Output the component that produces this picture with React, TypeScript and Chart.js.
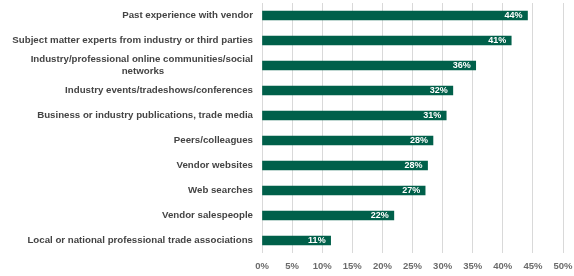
import React, { useEffect, useRef } from "react";
import { Chart, registerables } from "chart.js";

Chart.register(...registerables);

const categories: (string | string[])[] = [
  "Past experience with vendor",
  "Subject matter experts from industry or third parties",
  ["Industry/professional online communities/social", "networks"],
  "Industry events/tradeshows/conferences",
  "Business or industry publications, trade media",
  "Peers/colleagues",
  "Vendor websites",
  "Web searches",
  "Vendor salespeople",
  "Local or national professional trade associations",
];
const values = [44.1, 41.4, 35.5, 31.7, 30.6, 28.4, 27.5, 27.1, 21.9, 11.4];
const valueLabels = ["44%", "41%", "36%", "32%", "31%", "28%", "28%", "27%", "22%", "11%"];
const xTicks = [0, 5, 10, 15, 20, 25, 30, 35, 40, 45, 50];

const FONT = "'Liberation Sans', Arial, sans-serif";
const Y_FONT_SIZE = 9.7;

const measureCtx = (() => {
  const c = document.createElement("canvas");
  const ctx = c.getContext("2d")!;
  ctx.font = `bold ${Y_FONT_SIZE}px ${FONT}`;
  return ctx;
})();

// center the lines of a multi-line label against each other (right-aligned axis)
function centerLines(label: string | string[]): string | string[] {
  if (!Array.isArray(label)) return label;
  const widths = label.map((l) => measureCtx.measureText(l).width);
  const maxW = Math.max(...widths);
  const sp = measureCtx.measureText("\u00a0").width;
  return label.map((l, i) => {
    const n = Math.round((maxW - widths[i]) / 2 / sp);
    return l + "\u00a0".repeat(n);
  });
}

const labelPlugin = {
  id: "barLabels",
  afterDatasetsDraw(chart: any) {
    const ctx = chart.ctx;
    const meta = chart.getDatasetMeta(0);
    ctx.save();
    ctx.font = `bold 9px ${FONT}`;
    ctx.fillStyle = "#ffffff";
    ctx.textAlign = "right";
    ctx.textBaseline = "middle";
    meta.data.forEach((bar: any, i: number) => {
      ctx.fillText(valueLabels[i], bar.x - 5, bar.y + 0.5);
    });
    ctx.restore();
  },
};

export default function App() {
  const ref = useRef<HTMLCanvasElement>(null);
  useEffect(() => {
    if (!ref.current) return;
    const chart = new Chart(ref.current, {
      type: "bar",
      data: {
        labels: categories,
        datasets: [
          {
            data: values,
            backgroundColor: "#00604a",
            barThickness: 9,
          },
        ],
      },
      options: {
        indexAxis: "y",
        animation: false,
        responsive: false,
        maintainAspectRatio: false,
        layout: { padding: { top: 3, right: 11, left: 0, bottom: 0 } },
        plugins: { legend: { display: false }, tooltip: { enabled: false } },
        scales: {
          x: {
            min: 0,
            max: 50,
            afterBuildTicks: (scale: any) => {
              scale.ticks = xTicks.map((v) => ({ value: v }));
            },
            afterFit: (scale: any) => {
              scale.height = 23;
              scale.paddingLeft = 0;
              scale.paddingRight = 0;
            },
            grid: { color: "#d9d9d9", drawTicks: false, lineWidth: 1 },
            border: { display: false },
            ticks: {
              padding: 8,
              color: "#6b6b6b",
              font: { family: FONT, size: 9.5, weight: "bold" },
              callback: (v: any) => v + "%",
              maxRotation: 0,
              autoSkip: false,
            },
          },
          y: {
            afterFit: (scale: any) => {
              scale.width = 262;
              scale.paddingTop = 0;
              scale.paddingBottom = 0;
            },
            grid: { display: false, drawTicks: false },
            border: { display: false },
            ticks: {
              padding: 9,
              autoSkip: false,
              color: "#444444",
              font: { family: FONT, size: Y_FONT_SIZE, weight: "bold", lineHeight: 1.18 },
              callback: function (this: any, v: any) {
                return centerLines(categories[v as number]);
              },
            },
          },
        },
      },
      plugins: [labelPlugin],
    });
    return () => chart.destroy();
  }, []);
  return (
    <div style={{ position: "fixed", left: 0, top: 0, width: 574, height: 276, background: "#fff" }}>
      <canvas ref={ref} width={574} height={276} style={{ width: 574, height: 276 }} />
    </div>
  );
}
